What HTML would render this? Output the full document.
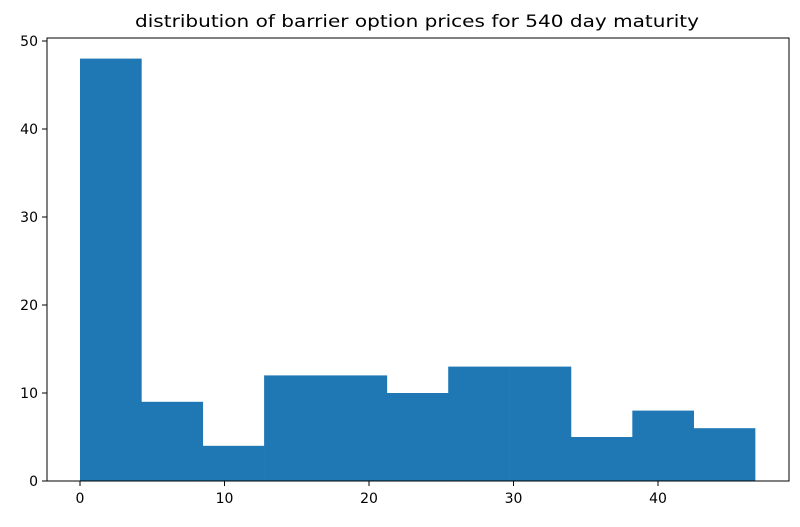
<!DOCTYPE html>
<html><head><meta charset="utf-8"><style>
body{margin:0;background:#fff;}
svg text{font-family:"DejaVu Sans","Liberation Sans",sans-serif;fill:#000;}
</style></head><body>
<svg id="chart" width="800" height="522" xmlns="http://www.w3.org/2000/svg">
<rect width="800" height="522" fill="#fff"/>
<text x="417" y="27" font-size="17" text-anchor="middle" textLength="564" lengthAdjust="spacingAndGlyphs">distribution of barrier option prices for 540 day maturity</text>
<g id="bars"></g><g id="axes"></g>
</svg>
<script>
const binStart = 0;
const binWidth = 4.247;
const counts = [48, 9, 4, 12, 12, 10, 13, 13, 5, 8, 6];
const xTicks = [0, 10, 20, 30, 40];
const yTicks = [0, 10, 20, 30, 40, 50];
const L=47,R=789,T=38,B=481;
const xs=v=>80+v*14.45;
const ys=v=>B-v*8.8;
const ns="http://www.w3.org/2000/svg";
const bars=document.getElementById('bars'),axes=document.getElementById('axes');
function mk(t,a,p){const e=document.createElementNS(ns,t);for(const k in a)e.setAttribute(k,a[k]);p.appendChild(e);return e;}
counts.forEach((c,i)=>{
 const x0=xs(binStart+i*binWidth),x1=xs(binStart+(i+1)*binWidth);
 const r=mk('rect',{x:x0,y:ys(c),width:x1-x0+0.3,height:B-ys(c),fill:'#1f77b4'},bars);
 
 
});
const fr=mk('rect',{x:L,y:T,width:R-L,height:B-T,fill:'none',stroke:'#000','stroke-width':1},axes);


xTicks.forEach(t=>{
 const x=xs(t);
 mk('line',{x1:x,x2:x,y1:B,y2:B+5,stroke:'#000'},axes);
 const tx=mk('text',{x:x,y:B+22,'font-size':14,'text-anchor':'middle'},axes);tx.textContent=t;
 
 
});
yTicks.forEach(t=>{
 const y=ys(t);
 mk('line',{x1:L-5,x2:L,y1:y,y2:y,stroke:'#000'},axes);
 const tx=mk('text',{x:L-9,y:y+5,'font-size':14,'text-anchor':'end'},axes);tx.textContent=t;
 
 
});
</script>
</body></html>
